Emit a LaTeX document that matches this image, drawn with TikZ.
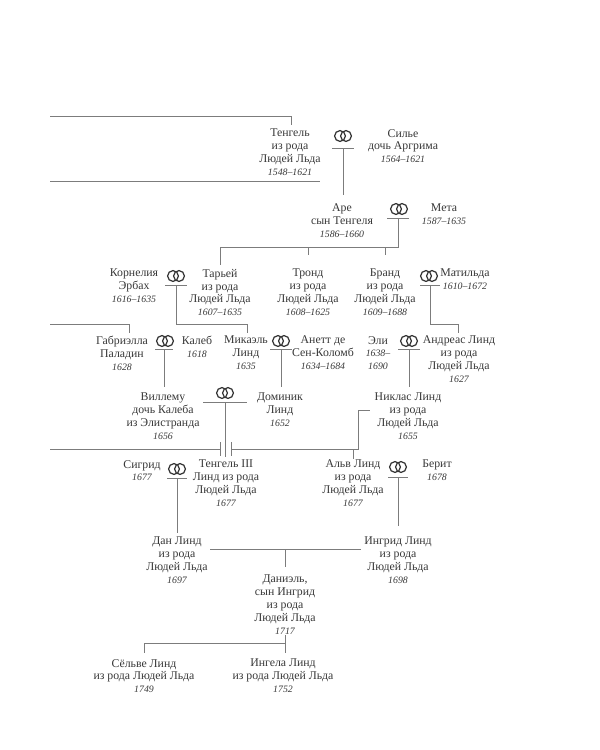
\documentclass[tikz,border=0pt]{standalone}
\usepackage{fontspec}
\setmainfont{Liberation Serif}
\usetikzlibrary{calc}
\definecolor{txt}{HTML}{383838}
\definecolor{ln}{HTML}{7C7C7C}
\newcommand{\yr}[1]{{\fontsize{9.8}{11}\selectfont\itshape #1}}
\begin{document}
\begin{tikzpicture}[x=1pt,y=-1pt,
  person/.style={align=center, anchor=north, inner sep=0pt, text=txt, font=\fontsize{11.8}{12.8}\selectfont},
  link/.style={draw=ln, line width=0.85pt},
  ringline/.style={draw=txt, line width=1.25pt}]
\path[use as bounding box, fill=white] (0,0) rectangle (600,750);

% persons
\node[person] (tengel) at (290,129) {Тенгель\\из рода\\Людей Льда\\\yr{1548–1621}};
\node[person] (silje) at (403,129) {Силье\\дочь Аргрима\\\yr{1564–1621}};
\node[person] (are) at (342,204) {Аре\\сын Тенгеля\\\yr{1586–1660}};
\node[person] (meta) at (444,204) {Мета\\\yr{1587–1635}};
\node[person] (kornelia) at (134,269) {Корнелия\\Эрбах\\\yr{1616–1635}};
\node[person] (tarjei) at (220,269) {Тарьей\\из рода\\Людей Льда\\\yr{1607–1635}};
\node[person] (trond) at (308,269) {Тронд\\из рода\\Людей Льда\\\yr{1608–1625}};
\node[person] (brand) at (385,269) {Бранд\\из рода\\Людей Льда\\\yr{1609–1688}};
\node[person] (matilda) at (465,269) {Матильда\\\yr{1610–1672}};
\node[person] (gabriella) at (122,336) {Габриэлла\\Паладин\\\yr{1628}};
\node[person] (kaleb) at (197,336) {Калеб\\\yr{1618}};
\node[person] (mikael) at (246,336) {Микаэль\\Линд\\\yr{1635}};
\node[person] (anett) at (323,336) {Анетт де\\Сен-Коломб\\\yr{1634–1684}};
\node[person] (eli) at (378,336) {Эли\\\yr{1638–}\\\yr{1690}};
\node[person] (andreas) at (459,336) {Андреас Линд\\из рода\\Людей Льда\\\yr{1627}};
\node[person] (villemu) at (163,393) {Виллему\\дочь Калеба\\из Элистранда\\\yr{1656}};
\node[person] (dominik) at (280,393) {Доминик\\Линд\\\yr{1652}};
\node[person] (niklas) at (408,393) {Никлас Линд\\из рода\\Людей Льда\\\yr{1655}};
\node[person] (sigrid) at (142,460) {Сигрид\\\yr{1677}};
\node[person] (tengel3) at (226,460) {Тенгель III\\Линд из рода\\Людей Льда\\\yr{1677}};
\node[person] (alv) at (353,460) {Альв Линд\\из рода\\Людей Льда\\\yr{1677}};
\node[person] (berit) at (437,460) {Берит\\\yr{1678}};
\node[person] (dan) at (177,537) {Дан Линд\\из рода\\Людей Льда\\\yr{1697}};
\node[person] (ingrid) at (398,537) {Ингрид Линд\\из рода\\Людей Льда\\\yr{1698}};
\node[person] (daniel) at (285,575) {Даниэль,\\сын Ингрид\\из рода\\Людей Льда\\\yr{1717}};
\node[person] (selve) at (144,659) {Сёльве Линд\\из рода Людей Льда\\\yr{1749}};
\node[person] (ingela) at (283,659) {Ингела Линд\\из рода Людей Льда\\\yr{1752}};

% wedding rings and marriage bars
\foreach \n/\rx/\ry/\mx/\my/\w in {1/343/136/343/148/11, 2/399/209/398/218/11, 3/176/276/176/285/11,
  4/429/276/430/285/10, 5/165/341/164/349/9, 6/281/341/281/349/11, 7/409/341/409/349/11,
  8/225/393/225/402/22, 9/177/469/177/478/10, 10/398/467/398/477/10} {
  \coordinate (r\n) at (\rx,\ry);
  \coordinate (m\n) at (\mx,\my);
  \draw[ringline] ($(r\n)+(-3,0)$) circle (5.4pt) ($(r\n)+(3,0)$) circle (5.4pt);
  \draw[link] ($(m\n)+(-\w,0)$) -- ($(m\n)+(\w,0)$);
}

% free ends and junctions
\coordinate (top1) at (50,116);
\coordinate (top2) at (50,181);
\coordinate (top2e) at (320,181);
\coordinate (s2) at (398,247);
\coordinate (s3) at (176,324);
\coordinate (s4) at (430,324);
\coordinate (row3) at (50,324);
\coordinate (row5) at (50,449);
\coordinate (bar1) at (220,449);
\coordinate (bar2) at (231,449);
\coordinate (nk1) at (358,449);
\coordinate (nk2) at (370,410);
\coordinate (s9) at (210,549);
\coordinate (s9e) at (361,549);
\coordinate (s11) at (285,643);

% connectors
\draw[link, shorten >=4pt] (top1) -| ([xshift=1pt]tengel.north);
\draw[link] (top2) -- (top2e);
\draw[link, shorten >=9pt] (m1) -- (m1 |- are.north);
\draw[link] (m2) -- (s2) -- (s2 -| tarjei.north);
\draw[link, shorten >=4pt] (s2 -| tarjei.north) -- (tarjei.north);
\draw[link, shorten >=14pt] (s2 -| trond.north) -- (trond.north);
\draw[link, shorten >=14pt] (s2 -| brand.north) -- (brand.north);
\draw[link, shorten >=3pt] (m3) -- (s3) -| ([xshift=1pt]mikael.north);
\draw[link, shorten >=3pt] (m4) -- (s4) -| ([xshift=-1pt]andreas.north);
\draw[link, shorten >=3pt] (row3) -| ([xshift=7pt]gabriella.north);
\draw[link, shorten >=6pt] (m5) -- (m5 |- villemu.north);
\draw[link, shorten >=6pt] (m6) -- (m6 |- dominik.north);
\draw[link, shorten >=6pt] (m7) -- (m7 |- niklas.north);
\draw[link, shorten >=3pt] (m8) -- (m8 |- tengel3.north);
\draw[link] (row5) -- (bar1);
\draw[link] ($(bar1)+(0,-7)$) -- ($(bar1)+(0,7)$);
\draw[link] ($(bar2)+(0,-7)$) -- ($(bar2)+(0,7)$);
\draw[link] (bar2) -- (nk1) |- (nk2);
\draw[link, shorten >=1pt] (alv.north |- nk1) -- (alv.north);
\draw[link, shorten >=4pt] (m9) -- (m9 |- dan.north);
\draw[link, shorten >=11pt] (m10) -- (m10 |- ingrid.north);
\draw[link] (s9) -- (s9e);
\draw[link, shorten >=8pt] (s9 -| daniel.north) -- (daniel.north);
\draw[link, shorten >=6pt] ($(daniel.south)+(0,1)$) -- (ingela.north -| daniel.south);
\draw[link, shorten >=6pt] (s11) -| (selve.north);
\end{tikzpicture}
\end{document}
